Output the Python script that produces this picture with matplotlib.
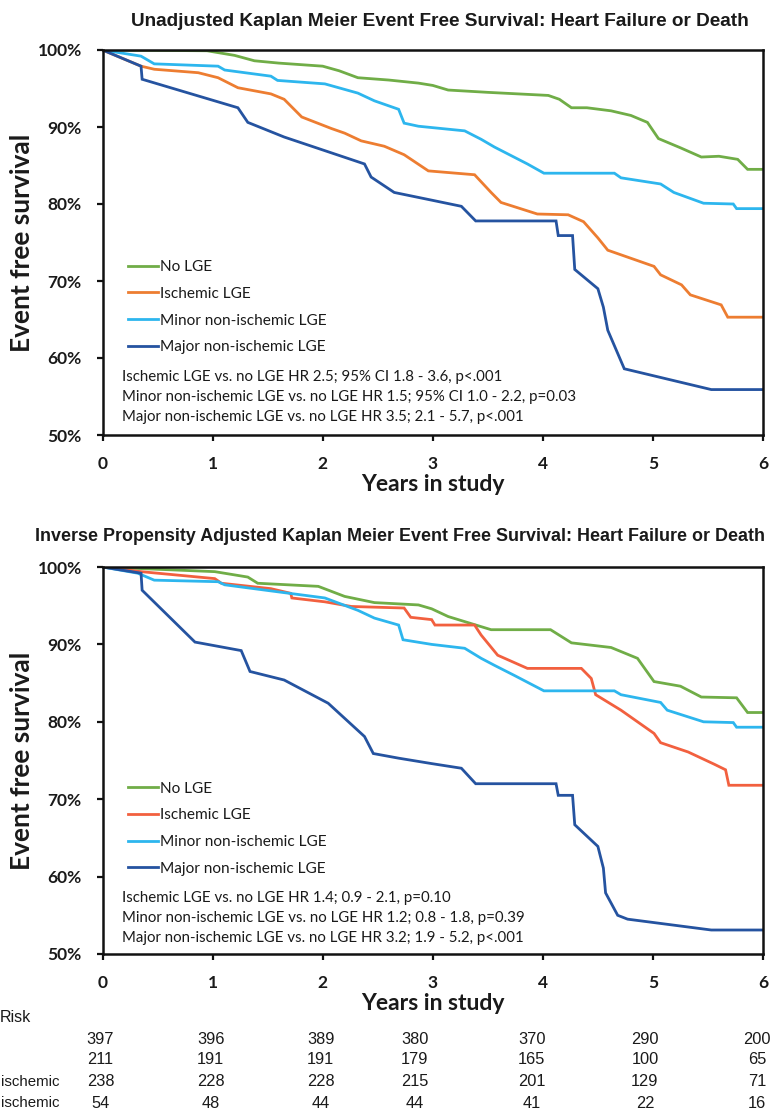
import matplotlib
matplotlib.use("Agg")
import matplotlib.pyplot as plt
from matplotlib import font_manager
from matplotlib.ticker import PercentFormatter
import matplotlib.transforms as mtransforms

# ---------------- data ----------------
labels = ["No LGE", "Ischemic LGE", "Minor non-ischemic LGE", "Major non-ischemic LGE"]

# Unadjusted (top)
t_top_no = [0, 0.95, 1.2, 1.38, 1.6, 2.0, 2.15, 2.32, 2.6, 2.87, 3.0, 3.14, 3.5, 4.05, 4.15, 4.26, 4.4, 4.62,
            4.8, 4.95, 5.05, 5.25, 5.44, 5.6, 5.77, 5.86, 6.0]
s_top_no = [100, 99.9, 99.3, 98.6, 98.3, 97.9, 97.3, 96.4, 96.1, 95.7, 95.4, 94.8, 94.5, 94.1, 93.6, 92.5, 92.5,
            92.1, 91.5, 90.6, 88.5, 87.3, 86.1, 86.2, 85.8, 84.5, 84.5]
t_top_isc = [0, 0.35, 0.47, 0.87, 1.05, 1.23, 1.53, 1.65, 1.81, 2.08, 2.2, 2.35, 2.56, 2.74, 2.96, 3.38, 3.53,
             3.62, 3.95, 4.23, 4.37, 4.5, 4.59, 5.01, 5.07, 5.26, 5.34, 5.62, 5.68, 6.0]
s_top_isc = [100, 97.9, 97.5, 97.05, 96.4, 95.1, 94.3, 93.6, 91.3, 89.8, 89.2, 88.2, 87.5, 86.4, 84.3, 83.8, 81.5,
             80.2, 78.7, 78.6, 77.7, 75.6, 74.0, 71.9, 70.8, 69.5, 68.2, 66.9, 65.3, 65.3]
t_top_min = [0, 0.35, 0.47, 1.05, 1.11, 1.53, 1.59, 2.02, 2.32, 2.47, 2.69, 2.74, 2.87, 3.29, 3.44, 3.56, 3.86,
             4.01, 4.65, 4.71, 5.07, 5.19, 5.46, 5.73, 5.76, 6.0]
s_top_min = [100, 99.2, 98.2, 97.9, 97.4, 96.6, 96.05, 95.6, 94.4, 93.4, 92.3, 90.5, 90.1, 89.5, 88.4, 87.4, 85.2,
             84.0, 84.0, 83.4, 82.6, 81.5, 80.1, 80.0, 79.4, 79.4]
t_top_maj = [0, 0.35, 0.36, 1.23, 1.32, 1.65, 2.38, 2.44, 2.65, 2.99, 3.26, 3.39, 4.12, 4.14, 4.27, 4.29, 4.5,
             4.55, 4.59, 4.74, 5.53, 6.0]
s_top_maj = [100, 97.9, 96.2, 92.5, 90.6, 88.7, 85.2, 83.5, 81.5, 80.5, 79.7, 77.8, 77.8, 75.9, 75.9, 71.5, 69.0,
             66.6, 63.6, 58.6, 55.9, 55.9]

# Inverse propensity adjusted (bottom)
t_bot_no = [0, 1.02, 1.32, 1.41, 1.96, 2.2, 2.47, 2.87, 2.99, 3.14, 3.53, 4.07, 4.26, 4.62, 4.86, 5.01, 5.25,
            5.44, 5.76, 5.86, 6.0]
s_bot_no = [100, 99.4, 98.7, 97.9, 97.5, 96.2, 95.4, 95.1, 94.6, 93.6, 91.9, 91.9, 90.2, 89.6, 88.2, 85.2, 84.6,
            83.2, 83.1, 81.2, 81.2]
t_bot_isc = [0, 0.35, 1.02, 1.08, 1.53, 1.71, 1.72, 2.02, 2.26, 2.74, 2.8, 2.99, 3.02, 3.38, 3.44, 3.59, 3.86,
             4.35, 4.44, 4.48, 4.71, 5.01, 5.07, 5.32, 5.56, 5.66, 5.69, 6.0]
s_bot_isc = [100, 99.4, 98.5, 97.9, 97.2, 96.6, 96.0, 95.5, 94.9, 94.7, 93.5, 93.2, 92.5, 92.5, 91.2, 88.6, 86.9,
             86.9, 85.6, 83.5, 81.5, 78.5, 77.3, 76.1, 74.5, 73.8, 71.8, 71.8]
t_bot_min = [0, 0.32, 0.47, 1.05, 1.11, 1.59, 2.02, 2.32, 2.47, 2.69, 2.73, 2.99, 3.29, 3.44, 3.56, 3.74, 4.01,
             4.65, 4.71, 5.07, 5.13, 5.46, 5.73, 5.76, 6.0]
s_bot_min = [100, 99.2, 98.3, 98.1, 97.7, 96.8, 96.0, 94.4, 93.4, 92.5, 90.6, 90.0, 89.5, 88.2, 87.3, 86.0, 84.0,
             84.0, 83.5, 82.5, 81.5, 80.0, 79.9, 79.3, 79.3]
t_bot_maj = [0, 0.35, 0.36, 0.84, 1.26, 1.34, 1.65, 2.05, 2.38, 2.46, 2.69, 2.99, 3.26, 3.39, 4.12, 4.14, 4.27,
             4.29, 4.5, 4.55, 4.57, 4.68, 4.77, 5.53, 6.0]
s_bot_maj = [100, 99.2, 97.0, 90.3, 89.2, 86.5, 85.4, 82.4, 78.1, 75.9, 75.3, 74.6, 74.0, 72.0, 72.0, 70.5, 70.5,
             66.7, 63.9, 61.1, 57.9, 55.0, 54.5, 53.1, 53.1]

stats_top = ["Ischemic LGE vs. no LGE HR 2.5; 95% CI 1.8 - 3.6, p<.001",
             "Minor non-ischemic LGE vs. no LGE HR 1.5; 95% CI 1.0 - 2.2, p=0.03",
             "Major non-ischemic LGE vs. no LGE HR 3.5; 2.1 - 5.7, p<.001"]
stats_bot = ["Ischemic LGE vs. no LGE HR 1.4; 0.9 - 2.1, p=0.10",
             "Minor non-ischemic LGE vs. no LGE HR 1.2; 0.8 - 1.8, p=0.39",
             "Major non-ischemic LGE vs. no LGE HR 3.2; 1.9 - 5.2, p<.001"]

title_top = "Unadjusted Kaplan Meier Event Free Survival: Heart Failure or Death"
title_bot = "Inverse Propensity Adjusted Kaplan Meier Event Free Survival: Heart Failure or Death"

# visible parts of the risk-table labels (the reference crops them at its left edge)
risk_header = "Risk"
risk_rows = ["", "", "ischemic", "ischemic"]
risk_years = [0, 1, 2, 3, 4, 5, 6]
risk_no = [397, 396, 389, 380, 370, 290, 200]
risk_isc = [211, 191, 191, 179, 165, 100, 65]
risk_min = [238, 228, 228, 215, 201, 129, 71]
risk_maj = [54, 48, 44, 44, 41, 22, 16]

colors_top = ["#70AD47", "#ED7D31", "#2DB6EE", "#2553A0"]
colors_bot = ["#70AD47", "#F2603F", "#2DB6EE", "#2553A0"]

# ---------------- fonts ----------------
names = {f.name for f in font_manager.fontManager.ttflist}
title_family = "Liberation Sans"
body = "Lato" if "Lato" in names else "DejaVu Sans"
ink = "#1a1a1a"

W, H = 771, 1114
fig = plt.figure(figsize=(W / 100, H / 100), dpi=100)


def fx(px):
    return px / W


def fy(py):
    return 1 - py / H


left, right = 102.5, 763
ax_top = fig.add_axes([fx(left), fy(435), fx(right - left), (435 - 50) / H])
ax_bot = fig.add_axes([fx(left), fy(954), fx(right - left), (954 - 567) / H])


def panel(ax, curves, colors, stats, leg_y, stat_ys):
    for (t, s), c, lab in zip(curves, colors, labels):
        ax.plot(t, s, color=c, lw=2.0, label=lab, solid_joinstyle="miter")
    ax.set_xlim(0, 6)
    ax.set_ylim(50, 100)
    ax.set_xticks(range(7))
    ax.set_yticks(range(50, 101, 10))
    ax.yaxis.set_major_formatter(PercentFormatter(decimals=0))
    for sp in ax.spines.values():
        sp.set_linewidth(1.8)
        sp.set_color("#111111")
    ax.tick_params(axis="both", direction="out", length=4, width=1.6, color="#111111")
    ax.tick_params(axis="x", pad=11)
    ax.tick_params(axis="y", pad=11)
    for lab in ax.get_xticklabels() + ax.get_yticklabels():
        lab.set_fontfamily(body)
        lab.set_fontweight("bold")
        lab.set_fontsize(12.5)
        lab.set_color(ink)
    ax.set_xlabel("Years in study", fontfamily=body, fontweight="bold", fontsize=16.5, color=ink)
    ax.set_ylabel("Event free survival", fontfamily=body, fontweight="bold", fontsize=19, color=ink)
    ax.xaxis.set_label_coords(0.5, -0.128)
    ax.xaxis.label.set_va("center")
    ax.yaxis.set_label_coords(-0.122, 0.5)
    ax.yaxis.label.set_va("center")
    leg = ax.legend(loc="center left", bbox_to_anchor=(0.039, leg_y), frameon=False,
                    handlelength=1.9, handletextpad=0.15, labelspacing=0.82, borderpad=0, borderaxespad=0,
                    prop={"family": body, "size": 11.1})
    for txt in leg.get_texts():
        txt.set_color(ink)
    for s, y in zip(stats, stat_ys):
        ax.text(0.0295, y, s, transform=ax.transAxes, ha="left", va="center", fontfamily=body,
                fontsize=10.8, color=ink)


panel(ax_top,
      [(t_top_no, s_top_no), (t_top_isc, s_top_isc), (t_top_min, s_top_min), (t_top_maj, s_top_maj)],
      colors_top, stats_top, 0.332, [0.151, 0.099, 0.047])
panel(ax_bot,
      [(t_bot_no, s_bot_no), (t_bot_isc, s_bot_isc), (t_bot_min, s_bot_min), (t_bot_maj, s_bot_maj)],
      colors_bot, stats_bot, 0.324, [0.145, 0.093, 0.041])

fig.text(fx(440), fy(22), title_top, ha="center", va="center", fontfamily=title_family,
         fontweight="bold", fontsize=13.7, color=ink)
fig.text(fx(400), fy(536), title_bot, ha="center", va="center", fontfamily=title_family,
         fontweight="bold", fontsize=12.9, color=ink)

# risk table
trans_x = mtransforms.blended_transform_factory(ax_bot.transData, fig.transFigure)
col_shift_px = [-2, -2, -2, -18, -11, -8, -6]
fig.text(fx(31), fy(1017), risk_header, ha="right", va="center", fontfamily="Liberation Sans",
         fontsize=11.5, color=ink)
row_ys = [1039, 1060, 1082, 1103]
for name, vals, y in zip(risk_rows, [risk_no, risk_isc, risk_min, risk_maj], row_ys):
    if name:
        fig.text(fx(59), fy(y), name, ha="right", va="center", fontfamily="Liberation Sans",
                 fontsize=10.8, color=ink)
    for yr, v, dx in zip(risk_years, vals, col_shift_px):
        tr = trans_x + mtransforms.ScaledTranslation(dx / 100, 0, fig.dpi_scale_trans)
        fig.text(yr, fy(y), str(v), transform=tr, ha="center", va="center",
                 fontfamily="Liberation Sans", fontsize=11.8, color=ink)

fig.savefig("out.png", dpi=100)
